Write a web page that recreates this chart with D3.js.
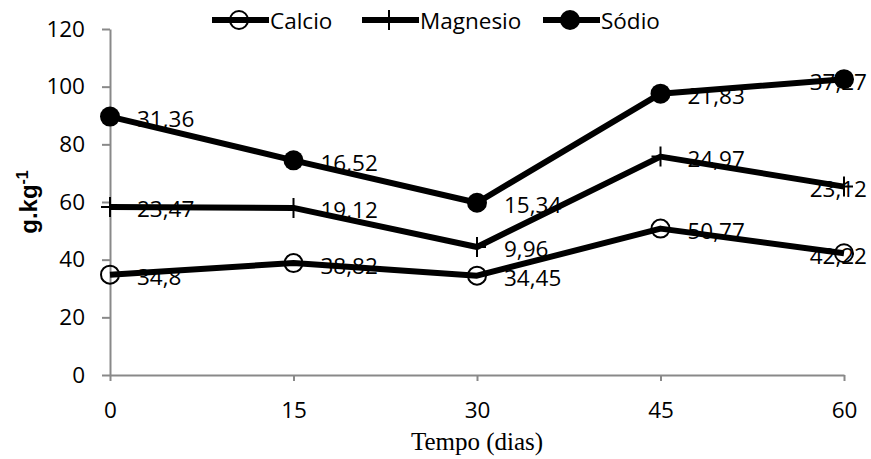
<!DOCTYPE html>
<html><head><meta charset="utf-8">
<script src="https://cdn.jsdelivr.net/npm/d3@7/dist/d3.min.js"></script>
<style>body{margin:0;background:#fff}svg{display:block}</style>
</head><body>
<svg id="chart" width="871" height="459"></svg>
<script>
const days = [0, 15, 30, 45, 60];
const seriesNames = ["Calcio", "Magnesio", "Sódio"];
const calcio = [34.8, 38.82, 34.45, 50.77, 42.22];
const magnesio = [23.47, 19.12, 9.96, 24.97, 23.12];
const sodio = [31.36, 16.52, 15.34, 21.83, 37.27];
const yTicks = [0, 20, 40, 60, 80, 100, 120];

const rows = days.map((d, i) => ({day: d, Calcio: calcio[i], Magnesio: magnesio[i], "Sódio": sodio[i]}));
const stacked = d3.stack().keys(seriesNames)(rows);

const svg = d3.select("#chart");
const x = d3.scaleLinear().domain([0, 60]).range([110, 844]);
const y = d3.scaleLinear().domain([0, 120]).range([375, 29]);
const axisColor = "#898989";
const font = "'Open Sans', sans-serif";

// y axis
const gy = svg.append("g").attr("transform", "translate(110,0)")
  .call(d3.axisLeft(y).tickValues(yTicks).tickSize(8).tickSizeOuter(0).tickPadding(17));
// x axis
const gx = svg.append("g").attr("transform", "translate(0,375)")
  .call(d3.axisBottom(x).tickValues(days).tickSize(6).tickSizeOuter(0).tickPadding(21));
[gx, gy].forEach(g => {
  g.selectAll("path,line").attr("stroke", axisColor).attr("stroke-width", 2);
  g.selectAll("text").attr("font-family", font).attr("font-size", 22.5).attr("fill", "#000");
});
gx.selectAll("text").attr("dy", "0.71em");

// axis titles
svg.append("text").attr("x", x(30)).attr("y", 450).attr("text-anchor", "middle")
  .attr("font-family", "'Liberation Serif', 'Times New Roman', serif").attr("font-size", 25)
  .text("Tempo (dias)");
const yt = svg.append("text").attr("transform", "translate(37,202) rotate(-90)")
  .attr("text-anchor", "middle").attr("font-family", "'Liberation Sans', Arial, sans-serif")
  .attr("font-size", 24).attr("font-weight", "bold");
yt.append("tspan").text("g.kg");
yt.append("tspan").attr("dy", -9).attr("font-size", 16).text("-1");

// data labels
const labelG = svg.append("g");
stacked.forEach(s => {
  s.forEach((d, i) => {
    const px = x(days[i]), py = y(d[1]);
    const t = labelG.append("text").attr("font-family", font).attr("font-size", 22.5)
      .attr("dominant-baseline", "central").attr("y", py + 2)
      .text(String(d.data[s.key]).replace(".", ","));
    const w = t.node().getComputedTextLength();
    t.attr("x", Math.min(px + 27, 867 - w));
  });
});

// lines
const line = d3.line().x((d, i) => x(days[i])).y(d => y(d[1]));
stacked.forEach(s => {
  svg.append("path").datum(s).attr("d", line).attr("fill", "none")
    .attr("stroke", "#000").attr("stroke-width", 6).attr("stroke-linejoin", "round");
});

function marker(g, key, cx, cy) {
  if (key === "Calcio") {
    g.append("circle").attr("cx", cx).attr("cy", cy).attr("r", 9)
      .attr("fill", "none").attr("stroke", "#000").attr("stroke-width", 2);
  } else if (key === "Magnesio") {
    g.append("path").attr("d", `M${cx - 9},${cy}H${cx + 9}M${cx},${cy - 10}V${cy + 10}`)
      .attr("stroke", "#000").attr("stroke-width", 2).attr("fill", "none");
  } else {
    g.append("circle").attr("cx", cx).attr("cy", cy).attr("r", 10).attr("fill", "#000");
  }
}
stacked.forEach(s => {
  const g = svg.append("g");
  s.forEach((d, i) => marker(g, s.key, x(days[i]), y(d[1])));
});

// legend
const legendItems = [
  {key: "Calcio", x0: 212},
  {key: "Magnesio", x0: 362},
  {key: "Sódio", x0: 543}
];
legendItems.forEach(it => {
  const g = svg.append("g");
  g.append("line").attr("x1", it.x0).attr("x2", it.x0 + 57).attr("y1", 20).attr("y2", 20)
    .attr("stroke", "#000").attr("stroke-width", 6);
  marker(g, it.key, it.x0 + 27, 20);
  g.append("text").attr("x", it.x0 + 58).attr("y", 20).attr("dominant-baseline", "central")
    .attr("font-family", font).attr("font-size", 22.5).text(it.key);
});
</script>
</body></html>
